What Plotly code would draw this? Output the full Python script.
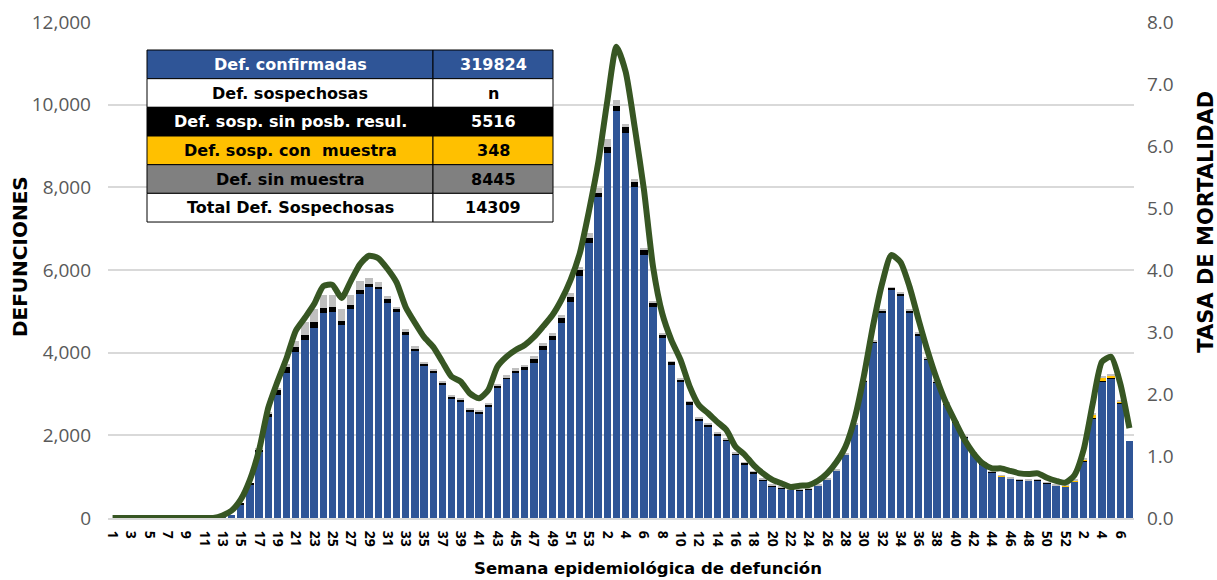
import plotly.graph_objects as go

# semanas epidemiologicas: 2020 (53), 2021 (52), 2022 (7)
years = [2020, 2021, 2022]
weeks_per_year = [53, 52, 7]

confirmadas = [
    # 2020
    0, 0, 0, 0, 0, 0, 0, 0, 0, 0, 0, 0, 20, 80, 330, 800, 1600, 2450, 2980, 3520,
    4020, 4300, 4600, 4950, 4980, 4680, 5050, 5430, 5580, 5530, 5210, 4980, 4430, 4040,
    3680, 3500, 3220, 2890, 2815, 2575, 2510, 2695, 3150, 3355, 3515, 3580, 3740, 4065,
    4300, 4710, 5230, 5850, 6650,
    # 2021
    7760, 8840, 9850, 9310, 8000, 6360, 5100, 4360, 3700, 3300, 2735, 2370, 2210, 2000,
    1870, 1525, 1305, 1080, 905, 760, 720, 680, 660, 695, 775, 920, 1140, 1525, 2250,
    3300, 4240, 4970, 5515, 5395, 4970, 4425, 3825, 3275, 2750, 2305, 1950, 1550, 1305,
    1105, 1000, 945, 910, 900, 915, 840, 775, 760,
    # 2022
    880, 1365, 2410, 3300, 3380, 2775, 1870,
]

sin_posibilidad = [
    0, 0, 0, 0, 0, 0, 0, 0, 0, 0, 0, 0, 0, 0, 20, 40, 60, 80, 110, 130,
    120, 120, 130, 125, 130, 95, 95, 95, 80, 70, 110, 65, 75, 60,
    60, 60, 55, 50, 55, 55, 55, 55, 55, 55, 65, 80, 95, 95,
    115, 130, 125, 140, 120,
    115, 140, 120, 150, 130, 115, 90, 80, 75, 55, 75, 40, 55, 45,
    40, 40, 30, 35, 30, 30, 25, 20, 18, 18, 18, 18, 18, 18, 20,
    20, 40, 45, 50, 45, 45, 45, 40, 35, 30, 25, 18, 15, 15,
    15, 15, 15, 15, 15, 15, 15, 15,
    10, 10, 15, 15, 10, 10, 5,
]

con_muestra = [
    0, 0, 0, 0, 0, 0, 0, 0, 0, 0, 0, 0, 0, 0, 0, 0, 0, 0, 0, 0,
    0, 0, 0, 0, 0, 0, 0, 0, 0, 0, 0, 0, 0, 0,
    0, 0, 0, 0, 0, 0, 0, 0, 0, 0, 0, 0, 0, 0,
    0, 0, 0, 0, 0,
    0, 0, 0, 0, 0, 0, 0, 0, 0, 0, 0, 0, 0, 0,
    0, 0, 0, 0, 0, 0, 0, 0, 0, 0, 0, 0, 0, 0, 0,
    0, 0, 0, 0, 0, 0, 0, 0, 0, 0, 2, 2, 2, 2,
    3, 3, 3, 3, 3, 3, 3, 3,
    10, 20, 40, 80, 80, 65, 50,
]

sin_muestra = [
    0, 0, 0, 0, 0, 0, 0, 0, 0, 0, 0, 0, 0, 0, 0, 0, 20, 40, 50, 80,
    150, 330, 330, 330, 290, 290, 250, 200, 140, 115, 40, 65, 65, 65,
    40, 40, 40, 40, 40, 25, 40, 40, 40, 40, 40, 35, 80, 65,
    50, 80, 80, 80, 120,
    100, 180, 145, 65, 65, 50, 55, 30, 20, 20, 20, 20, 15, 15,
    15, 15, 10, 10, 10, 10, 10, 10, 10, 10, 10, 10, 10, 10, 10,
    10, 15, 20, 20, 20, 20, 15, 15, 15, 10, 10, 10, 10, 10,
    10, 10, 10, 10, 10, 10, 10, 10,
    20, 20, 30, 40, 40, 30, 30,
]

tasa = [
    0, 0, 0, 0, 0, 0, 0, 0, 0, 0, 0, 0, 0.04, 0.12, 0.3, 0.62, 1.1, 1.78, 2.2, 2.58,
    3.02, 3.23, 3.45, 3.74, 3.76, 3.55, 3.82, 4.09, 4.23, 4.19, 4.02, 3.8, 3.4, 3.15,
    2.92, 2.76, 2.52, 2.28, 2.2, 2.01, 1.93, 2.06, 2.44, 2.6, 2.71, 2.79, 2.92, 3.09,
    3.27, 3.52, 3.84, 4.27, 4.95,
    5.72, 6.72, 7.6, 7.2, 6.3, 5.3, 4.05, 3.3, 2.87, 2.55, 2.12, 1.82, 1.69, 1.55,
    1.42, 1.15, 1.02, 0.85, 0.72, 0.62, 0.56, 0.5, 0.52, 0.53, 0.6, 0.72, 0.9, 1.15, 1.6,
    2.28, 3.09, 3.78, 4.24, 4.13, 3.73, 3.19, 2.68, 2.23, 1.85, 1.55, 1.26, 1.04, 0.88,
    0.8, 0.8, 0.76, 0.72, 0.71, 0.72, 0.65, 0.6, 0.57,
    0.69, 1.1, 1.85, 2.52, 2.6, 2.17, 1.45,
]

tabla_etiquetas = ["Def. confirmadas", "Def. sospechosas", "Def. sosp. sin posb. resul.",
                   "Def. sosp. con  muestra", "Def. sin muestra", "Total Def. Sospechosas"]
tabla_valores = ["319824", "n", "5516", "348", "8445", "14309"]

FONT = "Open Sans"
BOLD = "DejaVu Sans"
AZUL = "#2F5597"
NEGRO = "#000000"
AMARILLO = "#FFC000"
GRIS = "#BFBFBF"
VERDE = "#375623"

semanas = []
etiquetas = []
for yr, n in zip(years, weeks_per_year):
    for wk in range(1, n + 1):
        semanas.append(f"{yr}-{wk}")
        etiquetas.append(str(wk))
tick_vals = semanas[::2]
tick_text = etiquetas[::2]

fig = go.Figure()
for name, vals, color in [
    ("Def. confirmadas", confirmadas, AZUL),
    ("Def. sosp. sin posb. resul.", sin_posibilidad, NEGRO),
    ("Def. sosp. con muestra", con_muestra, AMARILLO),
    ("Def. sin muestra", sin_muestra, GRIS),
]:
    fig.add_trace(go.Bar(x=semanas, y=vals, name=name, marker_color=color,
                         marker_line_width=0))

fig.add_trace(go.Scatter(x=semanas, y=tasa, name="Tasa de mortalidad", yaxis="y2",
                         mode="lines", line=dict(color=VERDE, width=6, shape="spline",
                                                 smoothing=0.6)))

# tabla resumen (en pixeles del area de trazado: 1026 x 496)
PW, PH = 1026, 496
tx0, tx1, tx2 = 39, 325, 445
ty0, row_h = 468, 28.67
fila_fill = [AZUL, "#FFFFFF", NEGRO, AMARILLO, "#808080", "#FFFFFF"]
fila_font = ["#FFFFFF", "#000000", "#FFFFFF", "#000000", "#000000", "#000000"]
shapes = []
annotations = []
for k, (lab, val) in enumerate(zip(tabla_etiquetas, tabla_valores)):
    top = (ty0 - k * row_h) / PH
    bot = (ty0 - (k + 1) * row_h) / PH
    for xa, xb, txt in [(tx0, tx1, lab), (tx1, tx2, val)]:
        shapes.append(dict(type="rect", xref="paper", yref="paper", layer="above",
                           x0=xa / PW, x1=xb / PW, y0=bot, y1=top,
                           fillcolor=fila_fill[k], line=dict(color="black", width=1)))
        annotations.append(dict(text=f"<b>{txt}</b>", xref="paper", yref="paper",
                                x=(xa + xb) / 2 / PW, y=(top + bot) / 2, showarrow=False,
                                xanchor="center", yanchor="middle",
                                font=dict(family=BOLD, size=16, color=fila_font[k])))

annotations += [
    dict(text="<b>DEFUNCIONES</b>", xref="paper", yref="paper", x=-0.0858, y=0.528,
         xanchor="center", yanchor="middle",
         textangle=-90, showarrow=False, font=dict(family=BOLD, size=20, color="black")),
    dict(text="<b>TASA DE MORTALIDAD</b>", xref="paper", yref="paper", x=1.07, y=0.597,
         xanchor="center", yanchor="middle",
         textangle=-90, showarrow=False, font=dict(family=BOLD, size=21, color="black")),
    dict(text="<b>Semana epidemiológica de defunción</b>", xref="paper", yref="paper",
         x=0.526, y=-0.101, xanchor="center", yanchor="middle", showarrow=False,
         font=dict(family=BOLD, size=16.5, color="black")),
]

fig.update_layout(
    width=1217, height=580,
    margin=dict(l=108, r=83, t=22, b=62, autoexpand=False),
    barmode="stack", bargap=0.2,
    plot_bgcolor="white", paper_bgcolor="white",
    showlegend=False,
    font=dict(family=FONT, color="#595959"),
    xaxis=dict(type="category", tickmode="array", tickvals=tick_vals, ticktext=tick_text,
               tickangle=90, tickfont=dict(family=FONT, size=14, color="black", weight="bold"),
               showgrid=False, showline=True, linecolor="#D9D9D9", linewidth=2,
               ticks="", ticklabelstandoff=8, automargin=False),
    yaxis=dict(range=[0, 12000], dtick=2000, tickformat=",", showgrid=True,
               gridcolor="#D9D9D9", gridwidth=1.5, zeroline=False, automargin=False,
               tickfont=dict(family=FONT, size=19, color="#595959"), ticklabelstandoff=16),
    yaxis2=dict(range=[0, 8], dtick=1, tickformat=".1f", overlaying="y", side="right",
                showgrid=False, zeroline=False, automargin=False,
                tickfont=dict(family=FONT, size=19, color="#595959"), ticklabelstandoff=12),
    shapes=shapes,
    annotations=annotations,
)

# quitar el margen por defecto del <body> para que la figura llene la ventana
fig.write_html("out.html", config={"displayModeBar": False},
               post_script="document.body.style.margin='0';")
